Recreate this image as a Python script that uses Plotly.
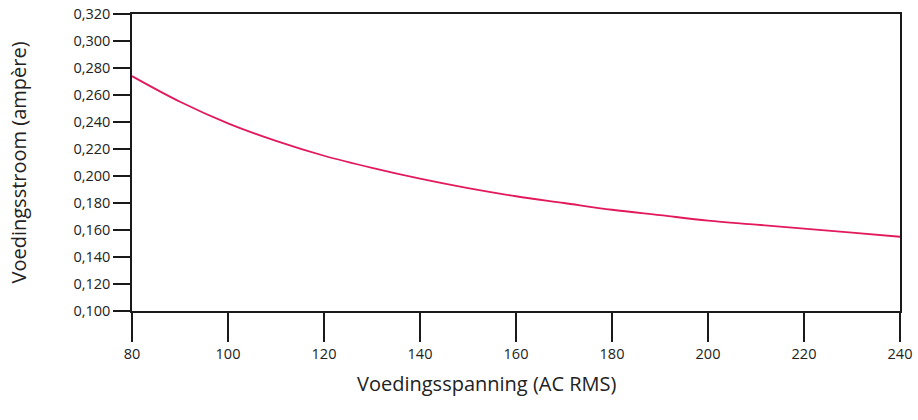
import plotly.graph_objects as go

voltage = [80, 90, 100, 110, 120, 130, 140, 150, 160, 170, 180, 190, 200, 210, 220, 230, 240]
current = [0.274, 0.255, 0.239, 0.226, 0.215, 0.206, 0.198, 0.191, 0.185, 0.180,
           0.175, 0.171, 0.167, 0.164, 0.161, 0.158, 0.155]

x_ticks = [80, 100, 120, 140, 160, 180, 200, 220, 240]
y_ticks = [0.100, 0.120, 0.140, 0.160, 0.180, 0.200, 0.220, 0.240, 0.260, 0.280, 0.300, 0.320]
y_labels = [f"{v:.3f}".replace(".", ",") for v in y_ticks]

x_title = "Voedingsspanning (AC RMS)"
y_title = "Voedingsstroom (ampère)"

FONT = "Open Sans"
AX = "#1a1a1a"
TICK_SIZE = 14.5
TITLE_SIZE = 20

fig = go.Figure()
fig.add_trace(go.Scatter(
    x=voltage, y=current, mode="lines",
    line=dict(color="#e2195b", width=1.8, shape="spline", smoothing=1.0),
    hoverinfo="skip", showlegend=False,
))

fig.update_layout(
    width=918, height=420,
    margin=dict(l=132, r=18, t=14, b=109),
    paper_bgcolor="white", plot_bgcolor="white",
    font=dict(family=FONT, size=TICK_SIZE, color="#222"),
    xaxis=dict(
        range=[80, 240], tickvals=x_ticks, ticktext=[str(v) for v in x_ticks],
        showgrid=False, zeroline=False, automargin=False,
        showline=True, mirror=True, linecolor=AX, linewidth=1.5,
        ticks="outside", ticklen=29, tickwidth=1.5, tickcolor=AX,
        tickfont=dict(family=FONT, size=TICK_SIZE, color="#222"),
    ),
    yaxis=dict(
        range=[0.100, 0.320], tickvals=y_ticks, ticktext=y_labels,
        showgrid=False, zeroline=False, automargin=False,
        showline=True, mirror=True, linecolor=AX, linewidth=1.5,
        ticks="outside", ticklen=17, tickwidth=1.5, tickcolor=AX,
        tickfont=dict(family=FONT, size=TICK_SIZE, color="#222"),
    ),
    annotations=[
        dict(text=x_title, xref="paper", yref="paper", x=(487 - 132) / 768, y=0,
             xanchor="center", yanchor="middle", yshift=-72, showarrow=False,
             font=dict(family=FONT, size=TITLE_SIZE, color="#222")),
        dict(text=y_title, xref="paper", yref="paper", x=0, y=0.5,
             xanchor="center", yanchor="middle", xshift=-114, textangle=-90,
             showarrow=False, font=dict(family=FONT, size=TITLE_SIZE, color="#222")),
    ],
)

fig.write_html(
    "out.html",
    config={"displayModeBar": False},
    post_script="document.body.style.margin='0';document.body.style.overflow='hidden';",
)
